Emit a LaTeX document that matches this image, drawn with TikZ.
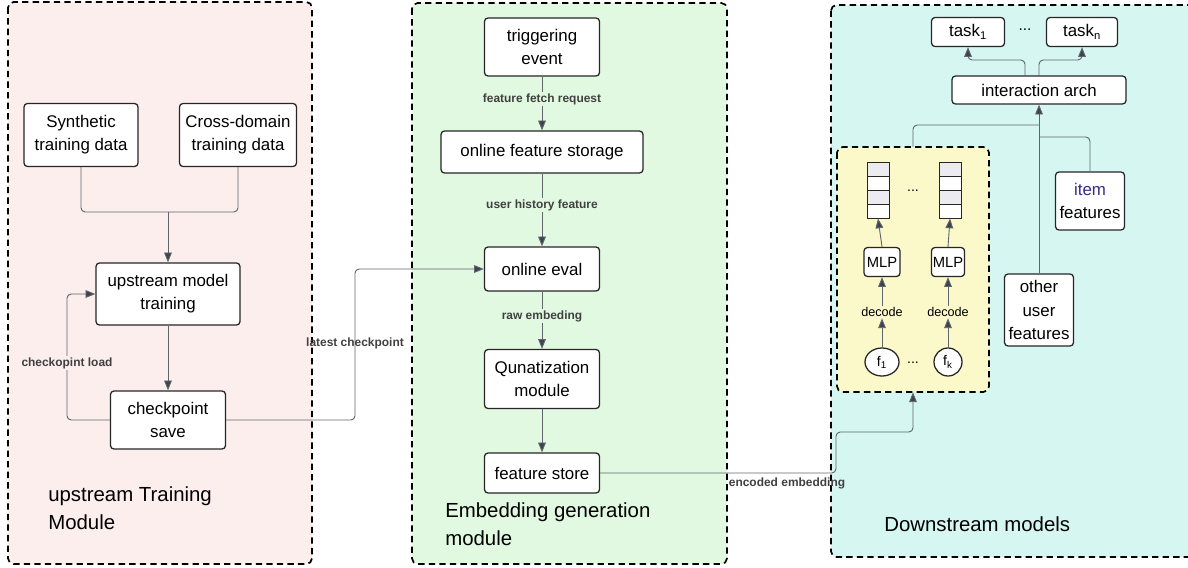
\documentclass[tikz,border=0pt]{standalone}
\usepackage{fontspec}
\setmainfont{Liberation Sans}
\usetikzlibrary{arrows.meta,shapes.geometric}

\definecolor{pinkbg}{HTML}{FDEEEE}
\definecolor{greenbg}{HTML}{E1F8E1}
\definecolor{cyanbg}{HTML}{D6F7F1}
\definecolor{yellowbg}{HTML}{FBF8CA}
\definecolor{linegray}{HTML}{5F656B}
\definecolor{tipgray}{HTML}{3D4450}
\definecolor{cellgray}{HTML}{ECECF0}
\definecolor{itemblue}{HTML}{3A2B8C}

\tikzset{
  region/.style={draw=black, line width=1.2pt, dash pattern=on 4.5pt off 3pt, rounded corners=4pt},
  box/.style={draw=black!85, line width=0.9pt, rounded corners=2.5pt, fill=white, align=center,
    font=\fontsize{12}{16.5}\selectfont, inner sep=1pt},
  link/.style={draw=linegray, line width=0.65pt, rounded corners=3pt},
  arr/.style={link, -{Triangle[width=5.5pt,length=7pt,fill=tipgray]}},
  lbl/.style={font=\fontsize{8.5}{10}\selectfont\bfseries, text=black!75, inner sep=1pt},
  title/.style={font=\fontsize{14.5}{20}\selectfont, anchor=north west, align=left, inner sep=0pt},
  cell/.style={draw=black!85, line width=0.6pt, minimum width=0.55cm, minimum height=0.35cm, inner sep=0pt}
}

\begin{document}
\begin{tikzpicture}[x=0.025cm, y=-0.025cm]
        \useasboundingbox (0,0) rectangle (1188,567);

        % regions
        \draw[region, fill=pinkbg] (8,2) rectangle (312,564);
        \draw[region, fill=greenbg] (412,3) rectangle (727,564);
        \draw[region, fill=cyanbg] (831,5) rectangle (1200,557);
        \draw[region, fill=yellowbg] (837,147) rectangle (989,392);
        \node (ybox) [minimum width=3.8cm, minimum height=6.125cm, inner sep=0pt] at (913,269.5) {};

        \node[title] (uptitle) at (48,486) {upstream Training\\Module};
        \node[title] (embtitle) at (445,502) {Embedding generation\\module};
        \node[title] (downtitle) at (884,516) {Downstream models};

        % upstream training
        \node[box, minimum width=2.85cm, minimum height=1.575cm] (synth) at (81,135) {Synthetic\\training data};
        \node[box, minimum width=2.925cm, minimum height=1.575cm] (cross) at (238,135) {Cross-domain\\training data};
        \node[box, minimum width=3.6cm, minimum height=1.55cm] (train) at (168,294) {upstream model\\training};
        \node[box, minimum width=2.875cm, minimum height=1.45cm] (ckpt) at (168,420) {checkpoint\\save};
        \coordinate (mrg) at (168,212);
        \coordinate (cl) at (67,420);
        \coordinate (lc) at (355,420);

        \draw[link] (synth.south) |- (mrg);
        \draw[link] (cross.south) |- (mrg);
        \draw[arr] (mrg) -- (train.north);
        \draw[arr] (train.south) -- (ckpt.north);
        \draw[arr] (ckpt.west) -- (cl) |- (train.west);
        \node[lbl, fill=pinkbg] (cllbl) at (67,363) {checkopint load};

        % embedding generation
        \node[box, minimum width=2.875cm, minimum height=1.45cm] (trig) at (542,47) {triggering\\event};
        \node[box, minimum width=5.05cm, minimum height=1.05cm] (store) at (542,152) {online feature storage};
        \node[box, minimum width=2.875cm, minimum height=1.1cm] (eval) at (542,269) {online eval};
        \node[box, minimum width=2.875cm, minimum height=1.475cm] (quant) at (542,379) {Qunatization\\module};
        \node[box, minimum width=2.875cm, minimum height=1.0cm] (fstore) at (542,473) {feature store};

        \draw[arr] (trig.south) -- (store.north);
        \draw[arr] (store.south) -- (eval.north);
        \draw[arr] (eval.south) -- (quant.north);
        \draw[arr] (quant.south) -- (fstore.north);
        \node[lbl, fill=greenbg] (fetchlbl) at (542,99) {feature fetch request};
        \node[lbl, fill=greenbg] (histlbl) at (542,205) {user history feature};
        \node[lbl, fill=greenbg] (rawlbl) at (542,316) {raw embeding};

        \draw[arr] (ckpt.east) -- (lc) |- (eval.west);
        \node[lbl] (lclbl) at (355,343) {latest checkpoint};

        % encoded embedding
        \coordinate (ee) at (836,432);
        \draw[arr] (fstore.east) -| (ee) -| (ybox.south);
        \node[lbl] (eelbl) at (787,483) {encoded embedding};

        % downstream models
        \node[box, minimum width=1.825cm, minimum height=0.725cm] (taska) at (968,32) {task\textsubscript{1}};
        \node (tdots) at (1025,30) {\fontsize{11}{13}\selectfont ...};
        \node[box, minimum width=1.775cm, minimum height=0.725cm] (taskb) at (1082,32) {task\textsubscript{n}};
        \node[box, minimum width=4.35cm, minimum height=0.7cm] (arch) at (1039,90) {interaction arch};
        \node[box, minimum width=1.725cm, minimum height=1.45cm] (item) at (1090,201) {\textcolor{itemblue}{item}\\features};
        \node[box, minimum width=1.725cm, minimum height=1.8cm] (other) at (1039,310) {other\\user\\features};
        \coordinate (ta) at (1025,60);
        \coordinate (tb) at (1039,60);
        \coordinate (jy) at (1039,125);
        \coordinate (ji) at (1039,137);

        \draw[arr] ([xshift=-0.35cm]arch.north) -- (ta) -| (taska.south);
        \draw[arr] (arch.north) -- (tb) -| (taskb.south);
        \draw[arr] (other.north) -- (arch.south);
        \draw[link] (ybox.north) |- (jy);
        \draw[link] (item.north) |- (ji);

        % decoder stacks
        \foreach \i/\y in {0/169,1/183,2/197,3/211}{
          \pgfmathsetmacro{\shade}{mod(\i,2)==0 ? 1 : 0}
          \ifdim\shade pt>0.5pt
            \node[cell, fill=cellgray] (sa\i) at (878,\y) {};
            \node[cell, fill=cellgray] (sb\i) at (950,\y) {};
          \else
            \node[cell, fill=white] (sa\i) at (878,\y) {};
            \node[cell, fill=white] (sb\i) at (950,\y) {};
          \fi
        }
        \node (sdots) at (913,191) {\fontsize{10}{12}\selectfont ...};

        \node[box, minimum width=0.9cm, minimum height=0.725cm, font=\fontsize{10.5}{12}\selectfont] (mlpa) at (882,262) {MLP};
        \node[box, minimum width=0.825cm, minimum height=0.725cm, font=\fontsize{10.5}{12}\selectfont] (mlpb) at (948,262) {MLP};
        \node[font=\fontsize{9}{10}\selectfont, inner sep=1pt] (deca) at (882,312) {decode};
        \node[font=\fontsize{9}{10}\selectfont, inner sep=1pt] (decb) at (948,312) {decode};
        \node[ellipse, draw=black!85, line width=0.9pt, fill=white, minimum width=0.85cm, minimum height=0.7cm, inner sep=0pt] (fa) at (882,362) {f\textsubscript{1}};
        \node[ellipse, draw=black!85, line width=0.9pt, fill=white, minimum width=0.7cm, minimum height=0.7cm, inner sep=0pt] (fb) at (948,362) {f\textsubscript{k}};
        \node (fdots) at (913,363) {\fontsize{10}{12}\selectfont ...};

        \draw[arr] (fa.north) -- (deca.south);
        \draw[arr] (fb.north) -- (decb.south);
        \draw[arr] (deca.north) -- (mlpa.south);
        \draw[arr] (decb.north) -- (mlpb.south);
        \draw[arr] (mlpa.north) -- (sa3.south);
        \draw[arr] (mlpb.north) -- (sb3.south);
\end{tikzpicture}
\end{document}
